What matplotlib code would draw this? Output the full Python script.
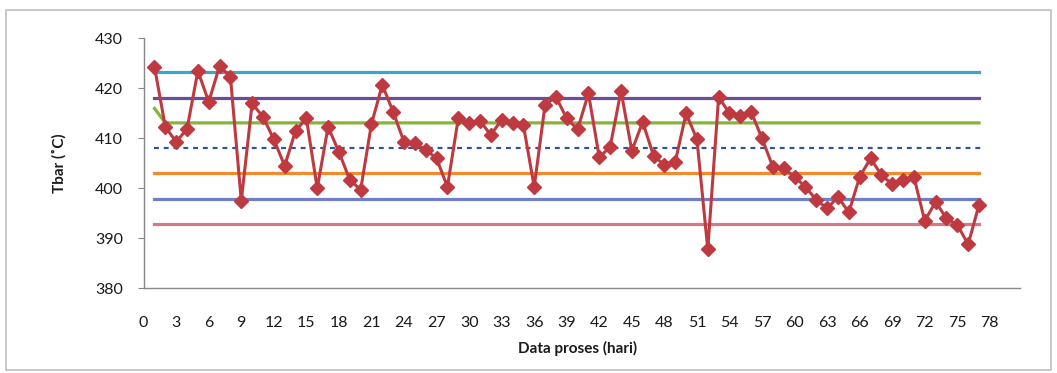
import matplotlib
matplotlib.use("Agg")
import matplotlib.pyplot as plt
from matplotlib.patches import Rectangle
import numpy as np

# hari ke-1 .. 77
days = list(range(1, 78))
tbar = [424.3, 412.3, 409.3, 411.9, 423.5, 417.3, 424.5, 422.3, 397.5, 417.0,
        414.3, 409.8, 404.5, 411.5, 414.0, 400.0, 412.3, 407.3, 401.7, 399.7,
        412.9, 420.7, 415.3, 409.3, 409.0, 407.7, 406.0, 400.3, 414.0, 413.1,
        413.5, 410.7, 413.7, 413.1, 412.7, 400.3, 416.7, 418.3, 414.0, 411.8,
        419.0, 406.2, 408.3, 419.5, 407.5, 413.3, 406.5, 404.7, 405.3, 415.0,
        409.8, 387.8, 418.3, 415.0, 414.5, 415.3, 410.0, 404.3, 404.0, 402.3,
        400.3, 397.7, 396.0, 398.3, 395.2, 402.3, 406.0, 402.7, 400.8, 401.7,
        402.3, 393.5, 397.3, 394.0, 392.7, 388.8, 396.7]

# garis batas kendali
center = 408.05
batas = {
    "ucl": 423.2, "b2a": 418.15, "b1a": 413.1,
    "b1b": 403.0, "b2b": 397.95, "lcl": 392.9,
}
green_start = 416.0

xticks = list(range(0, 79, 3))
yticks = [380, 390, 400, 410, 420, 430]

fig = plt.figure(figsize=(10.57, 3.73), dpi=100)
fig.patches.append(Rectangle((0.006, 0.008), 0.988, 0.965, transform=fig.transFigure,
                             fill=False, edgecolor="#BFBFBF", linewidth=1.2))
ax = fig.add_axes([0.1359, 0.227, 0.8211, 0.670])

x0, x1 = days[0], days[-1]
lw = 2.3
ax.plot([x0, x1], [batas["ucl"]] * 2, color="#3AA6C8", lw=lw, zorder=2)
ax.plot([x0, x1], [batas["b2a"]] * 2, color="#6A4C98", lw=lw, zorder=2)
ax.plot([x0, 2, x1], [green_start, batas["b1a"], batas["b1a"]], color="#86B33A", lw=lw, zorder=2)
ax.plot([x0, x1 + 0.3], [center] * 2, color="#2F5597", lw=1.6, ls=(0, (2.2, 2.2)), zorder=2)
ax.plot([x0, x1], [batas["b1b"]] * 2, color="#F28A2E", lw=lw, zorder=2)
ax.plot([x0, x1], [batas["b2b"]] * 2, color="#6F7FC6", lw=lw, zorder=2)
ax.plot([x0, x1], [batas["lcl"]] * 2, color="#D47A86", lw=lw, zorder=2)

ax.plot(days, tbar, color="#BE3A40", lw=2.2, marker="D", markersize=7,
        markerfacecolor="#BE3A40", markeredgecolor="#BE3A40", zorder=3)

ax.set_xlim(0, 80)
ax.set_ylim(380, 430)
ax.set_xticks(xticks)
ax.set_yticks(yticks)

fnt = ["Lato", "DejaVu Sans"]
ax.set_xticklabels([str(t) for t in xticks], fontsize=11.5, family=fnt, color="#1a1a1a")
ax.set_yticklabels([str(t) for t in yticks], fontsize=11.5, family=fnt, color="#1a1a1a")
ax.tick_params(axis="y", length=4, color="#888888", pad=11)
ax.tick_params(axis="x", length=0, pad=20)

for s in ["top", "right"]:
    ax.spines[s].set_visible(False)
ax.spines["left"].set_color("#888888")
ax.spines["bottom"].set_color("#888888")
ax.spines["bottom"].set_bounds(0, 80.8)
ax.spines["bottom"].set_linewidth(1.0)
ax.spines["left"].set_linewidth(1.0)

ax.set_ylabel("Tbar (˚C)", fontsize=11, fontweight="bold", family=fnt, color="#1a1a1a", labelpad=20)
ax.set_xlabel("Data proses (hari)", fontsize=11, fontweight="bold", family=fnt, color="#1a1a1a", labelpad=8)

fig.savefig("out.png", dpi=100)
